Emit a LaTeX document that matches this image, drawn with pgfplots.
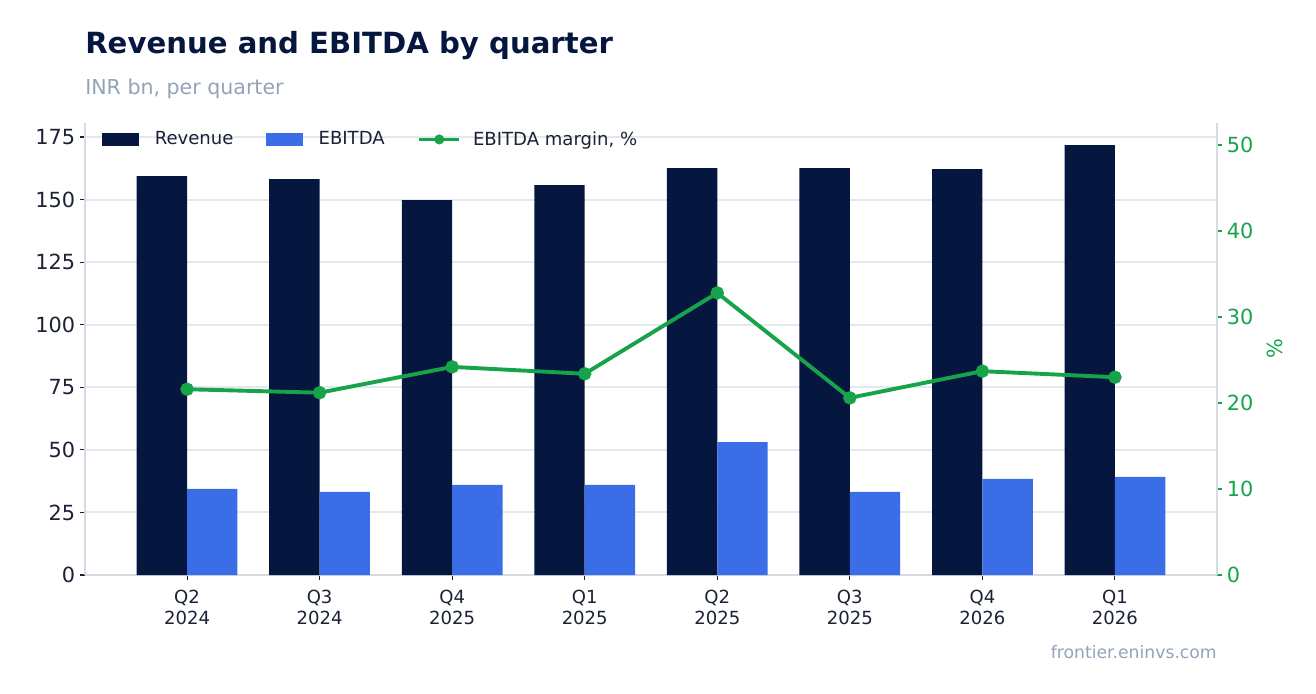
\documentclass[border=0pt]{standalone}
\usepackage{fontspec}
\setmainfont{DejaVu Sans}
\usepackage{pgfplots}
\pgfplotsset{compat=1.18}
\definecolor{navy}{HTML}{06173F}
\definecolor{ebitblue}{HTML}{3B6DE6}
\definecolor{margreen}{HTML}{16A34A}
\definecolor{subgrey}{HTML}{94A3B8}
\definecolor{gridc}{HTML}{E3E7EE}
\definecolor{spinec}{HTML}{D5DAE3}
\definecolor{tickc}{HTML}{1B2236}

\pgfplotstableread{
x rev ebitda margin
0 159.4 34.4 21.6
1 158.2 33.2 21.2
2 149.8 36.0 24.2
3 155.8 36.0 23.4
4 162.6 53.1 32.8
5 162.6 33.2 20.6
6 162.2 38.4 23.7
7 171.8 39.2 23.0
}\qdata

\begin{document}
\begin{tikzpicture}
\useasboundingbox (0,0) rectangle (947.52pt,498.96pt);
\node[anchor=west, inner sep=0, text=navy, font=\fontsize{21}{24}\selectfont\bfseries] at (61.2pt,466.0pt) {Revenue and EBITDA by quarter};
\node[anchor=west, inner sep=0, text=subgrey, font=\fontsize{14.8}{17}\selectfont] at (61.2pt,435.0pt) {INR bn, per quarter};
\node[anchor=east, inner sep=0, text=subgrey, font=\fontsize{12.4}{15}\selectfont] at (876.24pt,29.5pt) {frontier.eninvs.com};

\begin{axis}[
  at={(61.2pt,84.96pt)}, anchor=south west,
  width=815.04pt, height=325.44pt, scale only axis,
  xmin=-0.77, xmax=7.77, ymin=0, ymax=180.6,
  axis x line*=bottom, axis y line*=left,
  axis line style={spinec, line width=1.2pt},
  ytick={0,25,...,175},
  xtick={0,...,7},
  xticklabels={{Q2\\2024},{Q3\\2024},{Q4\\2025},{Q1\\2025},{Q2\\2025},{Q3\\2025},{Q4\\2026},{Q1\\2026}},
  xticklabel style={align=center, text=tickc, font=\fontsize{13}{15.2}\selectfont, yshift=-4pt},
  yticklabel style={text=tickc, font=\fontsize{15}{18}\selectfont},
  /pgf/number format/assume math mode=true,
  tick align=outside, major tick length=3.6pt,
  tick style={tickc, line width=0.8pt},
  ymajorgrids, grid style={gridc, line width=1.5pt},
  legend columns=3,
  legend style={at={(0.0114,0.994)}, anchor=north west, draw=none, fill=none,
    font=\fontsize{13}{15.5}\selectfont, text=tickc,
    /tikz/every even column/.append style={column sep=21.5pt}},
  legend cell align=left,
]
\addplot[ybar, bar width=0.38, bar shift=-0.19, fill=navy, draw=none,
  area legend,
  legend image code/.code={\fill[navy] (0pt,-4.7pt) rectangle (26.6pt,4.7pt);
    \path (35.8pt,0pt);}]
  table[x=x, y=rev] {\qdata};
\addlegendentry{Revenue}
\addplot[ybar, bar width=0.38, bar shift=0.19, fill=ebitblue, draw=none,
  area legend,
  legend image code/.code={\fill[ebitblue] (0pt,-4.7pt) rectangle (26.6pt,4.7pt);
    \path (35.8pt,0pt);}]
  table[x=x, y=ebitda] {\qdata};
\addlegendentry{EBITDA}
\addlegendimage{legend image code/.code={
  \draw[margreen, line width=2.8pt] (0pt,0pt) -- (28.8pt,0pt);
  \fill[margreen] (14.4pt,0pt) circle (3.4pt);
  \path (36.5pt,0pt);}}
\addlegendentry{EBITDA margin, \%}
\end{axis}

\begin{axis}[
  at={(61.2pt,84.96pt)}, anchor=south west,
  width=815.04pt, height=325.44pt, scale only axis,
  xmin=-0.77, xmax=7.77, ymin=0, ymax=52.56,
  axis x line=none, axis y line*=right,
  axis line style={spinec, line width=1.2pt},
  ytick={0,10,...,50},
  yticklabel style={text=margreen, font=\fontsize{15}{18}\selectfont},
  /pgf/number format/assume math mode=true,
  tick align=outside, major tick length=3.6pt,
  tick style={margreen, line width=0.8pt},
  ylabel={\%}, ylabel style={text=margreen, font=\fontsize{15}{18}\selectfont, yshift=-3pt},
]
\addplot[margreen, line width=2.8pt, mark=*, mark size=3.4pt]
  table[x=x, y=margin] {\qdata};
\end{axis}
\end{tikzpicture}
\end{document}
